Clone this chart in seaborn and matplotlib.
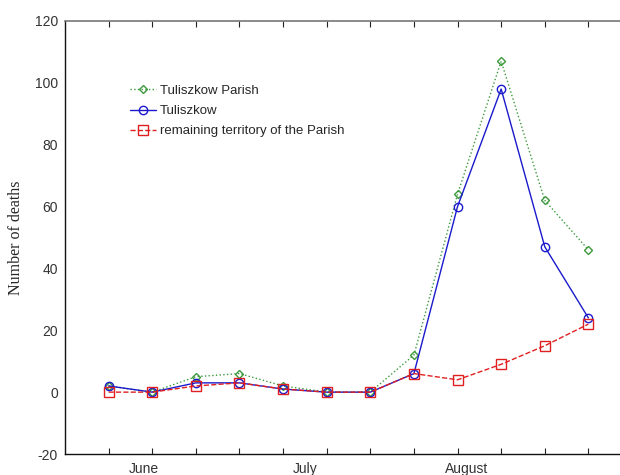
import matplotlib
matplotlib.use("Agg")
import matplotlib.pyplot as plt
import seaborn as sns
import pandas as pd
import numpy as np

# Weekly deaths, June to August
weeks = list(range(12))
parish = [2, 0, 5, 6, 2, 0, 0, 12, 64, 107, 62, 46]
town = [2, 0, 3, 3, 1, 0, 0, 6, 60, 98, 47, 24]
remaining = [0, 0, 2, 3, 1, 0, 0, 6, 4, 9, 15, 22]

month_labels = ["June", "July", "August"]
month_pos = [0.8, 4.5, 8.2]
y_ticks = [-20, 0, 20, 40, 60, 80, 100, 120]

sns.set_style("white")
plt.rcParams["font.family"] = ["Liberation Sans", "DejaVu Sans"]

fig = plt.figure(figsize=(6.2, 4.75), dpi=100)
ax = fig.add_axes([65 / 620, 1 - 454 / 475, (632 - 65) / 620, (454 - 21) / 475])

series = [
    ("Tuliszkow Parish", parish, "#3c9a3c", ":", "D", 4.2),
    ("Tuliszkow", town, "#1a1acc", "-", "o", 6),
    ("remaining territory of the Parish", remaining, "#e02020", "--", "s", 6.5),
]

for name, vals, color, ls, mk, ms in series:
    df = pd.DataFrame({"week": weeks, "deaths": vals})
    sns.lineplot(data=df, x="week", y="deaths", ax=ax, color=color, linestyle=ls,
                 linewidth=1.0, marker=mk, markersize=ms, markerfacecolor="none",
                 markeredgecolor=color, markeredgewidth=1.0, label=name)

ax.set_xlim(-1, 12)
ax.set_ylim(-20, 120)
ax.set_yticks(y_ticks)
ax.set_yticklabels([str(v) for v in y_ticks], fontsize=10, color="#333333")
ax.set_xticks(weeks)
ax.set_xticklabels([])
ax.set_xticks(month_pos, minor=True)
ax.set_xticklabels(month_labels, minor=True, fontsize=10, color="#333333")
ax.tick_params(axis="x", which="major", direction="in", length=4, width=0.8,
               top=True, bottom=True, color="#222222")
ax.tick_params(axis="x", which="minor", length=0, pad=6)
ax.tick_params(axis="y", direction="in", length=0, pad=5)

ax.set_xlabel("")
ax.set_ylabel("Number of deaths", family=["Liberation Serif", "DejaVu Serif"],
              fontsize=11.5, labelpad=8)

for side in ["left", "bottom"]:
    ax.spines[side].set_color("#111111")
    ax.spines[side].set_linewidth(1.0)
ax.spines["top"].set_color("#777777")
ax.spines["top"].set_linewidth(1.2)
ax.spines["right"].set_visible(False)

leg = ax.legend(loc="upper left", bbox_to_anchor=(0.105, 0.865), frameon=False,
                fontsize=9.5, handlelength=2.0, handletextpad=0.25,
                labelspacing=0.6, borderaxespad=0)

fig.savefig("out.png", dpi=100)
